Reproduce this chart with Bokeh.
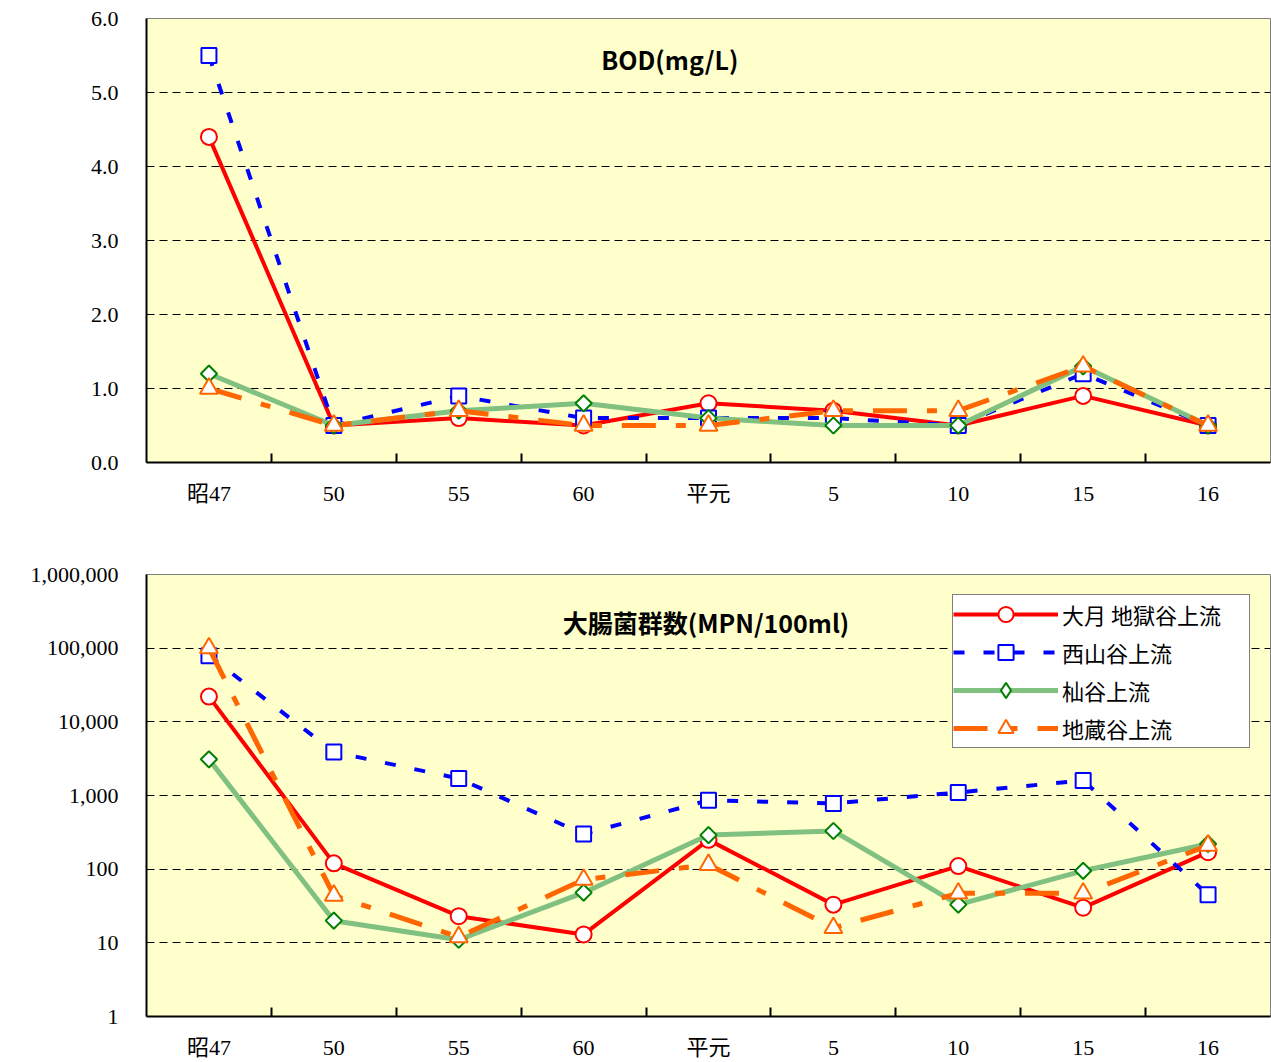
import numpy as np
from bokeh.plotting import figure
from bokeh.models import (Range1d, FixedTicker, Label, Legend, LegendItem,
                          NumeralTickFormatter)
from bokeh.layouts import column
from bokeh.embed import file_html
from bokeh.resources import INLINE

# ---------------- data ----------------
categories = ["昭47", "50", "55", "60", "平元", "5", "10", "15", "16"]
series_names = ["大月 地獄谷上流", "西山谷上流", "杣谷上流", "地蔵谷上流"]

bod_ootsuki = [4.4, 0.5, 0.6, 0.5, 0.8, 0.7, 0.5, 0.9, 0.5]
bod_nishiyama = [5.5, 0.5, 0.9, 0.6, 0.6, 0.6, 0.5, 1.2, 0.5]
bod_soma = [1.2, 0.5, 0.7, 0.8, 0.6, 0.5, 0.5, 1.3, 0.5]
bod_jizo = [1.0, 0.5, 0.7, 0.5, 0.5, 0.7, 0.7, 1.3, 0.5]

coli_ootsuki = [22000, 120, 23, 13, 250, 33, 110, 30, 170]
coli_nishiyama = [79000, 3900, 1700, 300, 860, 780, 1100, 1600, 45]
coli_soma = [3100, 20, 11, 48, 290, 330, 33, 95, 220]
coli_jizo = [100000, 44, 12, 72, 115, 16, 47, 47, 210]

bod_ticks = [0, 1, 2, 3, 4, 5, 6]
coli_ticks = [1, 10, 100, 1000, 10000, 100000, 1000000]

# ---------------- styles ----------------
styles = [
    dict(color="#FF0000", width=4, dash="solid", marker="circle", size=16,
         mcolor="#FF0000", angle=0.0, legend_marker=None),
    dict(color="#0000FF", width=4, dash="11 19", marker="square", size=15,
         mcolor="#0000FF", angle=0.0, legend_marker=None),
    dict(color="#80C080", width=5, dash="solid", marker="square", size=11.5,
         mcolor="#008000", angle=np.pi / 4, legend_marker="diamond"),
    dict(color="#FF6600", width=5, dash="34 20 10 20", marker="triangle", size=18,
         mcolor="#FF6600", angle=0.0, legend_marker=None),
]

TICK_FONT = "'Liberation Serif', 'Noto Sans CJK JP'"
xs = [i + 0.5 for i in range(len(categories))]


def make_fig(height, border_top, border_bottom, y_range, log, x_standoff):
    p = figure(width=1271, height=height, output_backend="svg",
               toolbar_location=None, x_range=Range1d(0, len(categories)),
               y_range=y_range, y_axis_type="log" if log else "linear",
               min_border_left=146, min_border_right=1,
               min_border_top=border_top, min_border_bottom=border_bottom)
    p.background_fill_color = "#FFFFCC"
    p.border_fill_color = "white"
    p.outline_line_color = "#808080"
    p.outline_line_width = 1

    xa = p.xaxis[0]
    xa.ticker = FixedTicker(ticks=xs, minor_ticks=list(range(1, len(categories))))
    xa.major_label_overrides = {x: c for x, c in zip(xs, categories)}
    xa.major_tick_in = 0
    xa.major_tick_out = 0
    xa.minor_tick_in = 9
    xa.minor_tick_out = 0
    xa.minor_tick_line_color = "black"
    xa.minor_tick_line_width = 2
    xa.axis_line_color = "black"
    xa.axis_line_width = 2
    xa.major_label_text_font = TICK_FONT
    xa.major_label_text_font_size = "22px"
    xa.major_label_text_color = "black"
    xa.major_label_standoff = x_standoff

    ya = p.yaxis[0]
    ya.major_tick_in = 0
    ya.major_tick_out = 0
    ya.minor_tick_in = 0
    ya.minor_tick_out = 0
    ya.axis_line_color = "black"
    ya.axis_line_width = 2
    ya.major_label_text_font = TICK_FONT
    ya.major_label_text_font_size = "22px"
    ya.major_label_text_color = "black"
    ya.major_label_standoff = 28

    p.xgrid.visible = False
    p.ygrid.grid_line_color = "black"
    p.ygrid.grid_line_width = 1
    p.ygrid.grid_line_dash = "8 5"
    return p


def draw_series(p, values_list):
    items = []
    for name, vals, st in zip(series_names, values_list, styles):
        lr = p.line(xs, vals, line_color=st["color"], line_width=st["width"],
                    line_dash=st["dash"])
        legend_r = None
        if st["legend_marker"]:
            # tiny marker hidden under the real one; only used for the legend icon
            legend_r = p.scatter(xs, vals, marker=st["legend_marker"], size=1,
                                 fill_color="white", line_color=st["mcolor"],
                                 line_width=2)
        sr = p.scatter(xs, vals, marker=st["marker"], size=st["size"],
                       angle=st["angle"], fill_color="white",
                       line_color=st["mcolor"], line_width=2)
        items.append(LegendItem(label=name, renderers=[lr, legend_r or sr]))
    return items


# ---------------- top: BOD ----------------
p1 = make_fig(520, 18, 58, Range1d(0, 6), False, 18)
p1.yaxis[0].ticker = FixedTicker(ticks=bod_ticks)
p1.yaxis[0].formatter = NumeralTickFormatter(format="0.0")
p1.ygrid[0].ticker = FixedTicker(ticks=bod_ticks[1:-1])
draw_series(p1, [bod_ootsuki, bod_nishiyama, bod_soma, bod_jizo])
p1.add_layout(Label(x=4.19, y=5.45, text="BOD(mg/L)", text_align="center",
                    text_baseline="middle", text_font="Noto Sans CJK JP",
                    text_font_style="bold", text_font_size="25px",
                    text_color="black"))

# ---------------- bottom: coliforms ----------------
p2 = make_fig(542, 54, 44, Range1d(1, 1000000), True, 18)
p2.yaxis[0].ticker = FixedTicker(ticks=coli_ticks)
p2.yaxis[0].formatter = NumeralTickFormatter(format="0,0")
p2.ygrid[0].ticker = FixedTicker(ticks=coli_ticks[1:-1])
items = draw_series(p2, [coli_ootsuki, coli_nishiyama, coli_soma, coli_jizo])
p2.add_layout(Label(x=4.48, y=224000, text="大腸菌群数(MPN/100ml)",
                    text_align="center", text_baseline="middle",
                    text_font="Noto Sans CJK JP", text_font_style="bold",
                    text_font_size="25px", text_color="black"))

legend = Legend(items=items, location=(806, 268))
legend.label_text_font = "Noto Sans CJK JP"
legend.label_text_font_size = "22px"
legend.label_text_color = "black"
legend.glyph_width = 105
legend.glyph_height = 38
legend.label_height = 38
legend.label_width = 187
legend.label_standoff = 4
legend.spacing = -1
legend.padding = 0
legend.margin = 0
legend.border_line_color = "black"
legend.border_line_width = 1
legend.background_fill_color = "white"
legend.background_fill_alpha = 1.0
p2.add_layout(legend)

layout = column(p1, p2, spacing=0)
open("out.html", "w").write(file_html(layout, INLINE))
